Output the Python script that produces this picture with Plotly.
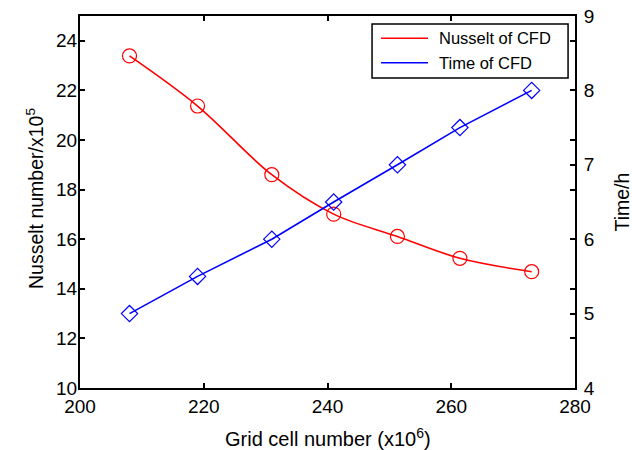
import plotly.graph_objects as go

grid_cells = [208, 219, 231, 241, 251.3, 261.4, 273]
nusselt = [23.39, 21.37, 18.6, 17.01, 16.11, 15.23, 14.69]
time_h = [5.0, 5.5, 6.0, 6.5, 7.0, 7.5, 8.0]
series_names = ["Nusselt of CFD", "Time of CFD"]
series_colors = ["#ff0000", "#0000ff"]
x_title = "Grid cell number (x10<sup>6</sup>)"
y_title = "Nusselt number/x10<sup>5</sup>"
y2_title = "Time/h"

FONT = "Liberation Sans, Arial, Helvetica, sans-serif"

fig = go.Figure()
fig.add_trace(go.Scatter(x=grid_cells, y=nusselt, mode="lines", showlegend=False, name=series_names[0],
                         line=dict(color=series_colors[0], width=1.6, shape="spline", smoothing=1.0)))
fig.add_trace(go.Scatter(x=grid_cells, y=nusselt, mode="markers", showlegend=False,
                         marker=dict(symbol="circle-open", size=14, color=series_colors[0], line=dict(width=1.2))))
fig.add_trace(go.Scatter(x=grid_cells, y=time_h, mode="lines", showlegend=False, name=series_names[1],
                         yaxis="y2", line=dict(color=series_colors[1], width=1.6)))
fig.add_trace(go.Scatter(x=grid_cells, y=time_h, mode="markers", showlegend=False, yaxis="y2",
                         marker=dict(symbol="diamond-open", size=12.5, color=series_colors[1], line=dict(width=1.2))))

axis_common = dict(showgrid=False, zeroline=False, ticks="inside", ticklen=5, tickwidth=1.5,
                   tickcolor="black", showline=True, linecolor="black", linewidth=2, automargin=False,
                   ticklabeloverflow="allow",
                   tickfont=dict(family=FONT, size=19, color="black"))

# manual legend (box, line samples, labels) in paper coordinates
lx0, lx1, ly0, ly1 = 0.590, 0.986, 0.8333, 0.9785
line_x0, line_x1 = 0.6081, 0.7030
row_y = [0.940, 0.8745]
shapes = [dict(type="rect", xref="paper", yref="paper", x0=lx0, x1=lx1, y0=ly0, y1=ly1,
               line=dict(color="black", width=1.5), fillcolor="white", layer="above")]
annotations = []
for name, color, yy in zip(series_names, series_colors, row_y):
    shapes.append(dict(type="line", xref="paper", yref="paper", x0=line_x0, x1=line_x1, y0=yy, y1=yy,
                       line=dict(color=color, width=1.6), layer="above"))
    annotations.append(dict(xref="paper", yref="paper", x=0.7212, y=yy, xanchor="left", yanchor="middle",
                            text=name, showarrow=False, font=dict(family=FONT, size=16.5, color="black")))

# axis titles
annotations.append(dict(xref="paper", yref="paper", x=0.5, y=-0.1344, xanchor="center", yanchor="middle",
                        text=x_title, showarrow=False, font=dict(family=FONT, size=20, color="black")))
annotations.append(dict(xref="paper", yref="paper", x=-0.0909, y=0.508, xanchor="center", yanchor="middle",
                        text=y_title, textangle=-90, showarrow=False, font=dict(family=FONT, size=19.5, color="black")))
annotations.append(dict(xref="paper", yref="paper", x=1.094, y=0.5, xanchor="center", yanchor="middle",
                        text=y2_title, textangle=-90, showarrow=False, font=dict(family=FONT, size=19.5, color="black")))

fig.update_layout(
    width=632, height=450,
    margin=dict(l=80, r=57, t=16, b=62),
    paper_bgcolor="white", plot_bgcolor="white",
    font=dict(family=FONT, color="black"),
    showlegend=False,
    xaxis=dict(range=[200, 280], dtick=20, mirror="ticks", **axis_common),
    yaxis=dict(range=[10, 25], tickvals=[10, 12, 14, 16, 18, 20, 22, 24], mirror="ticks",
               ticklabelstandoff=-3, **axis_common),
    yaxis2=dict(range=[4, 9], dtick=1, overlaying="y", side="right", ticklabelstandoff=3, **axis_common),
    shapes=shapes,
    annotations=annotations,
)

# remove the browser's default 8px body margin so the 632x450 figure fills the window
fig.write_html("out.html", config={"displayModeBar": False},
               post_script="document.body.style.margin='0px';")
